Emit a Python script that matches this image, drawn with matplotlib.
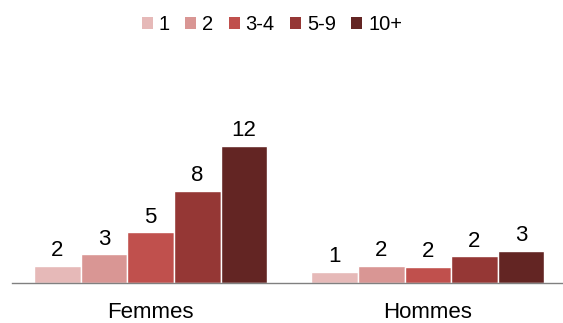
import matplotlib
matplotlib.use("Agg")
import matplotlib.pyplot as plt
import numpy as np
from matplotlib.patches import Patch

plt.rcParams['font.family'] = ['Liberation Sans', 'DejaVu Sans']

categories = ["Femmes", "Hommes"]
series_names = ["1", "2", "3-4", "5-9", "10+"]
values = {
    "1":   [1.55, 1.00],
    "2":   [2.60, 1.52],
    "3-4": [4.60, 1.50],
    "5-9": [8.35, 2.42],
    "10+": [12.45, 2.95],
}
colors = ["#E6B9B8", "#D99694", "#C0504D", "#953735", "#632523"]

fig = plt.figure(figsize=(5.63, 3.23), dpi=100)
ax = fig.add_axes([12/563, 40/323, 551/563, 223/323])

x = np.arange(len(categories))
n = len(series_names)
slot = 0.84 / n
for i, (name, c) in enumerate(zip(series_names, colors)):
    vals = values[name]
    pos = x - 0.42 + slot * (i + 0.5)
    bars = ax.bar(pos, vals, width=slot, color=c, edgecolor="white", linewidth=1)
    for b, v in zip(bars, vals):
        ax.annotate(f"{int(np.floor(v + 0.5))}", (b.get_x() + b.get_width()/2, v),
                    xytext=(0, 3.5), textcoords="offset points",
                    ha="center", va="bottom", fontsize=16, color="black")

ax.set_xlim(-0.5, 1.487)
ax.set_ylim(0, 20.3)
ax.set_xticks(x)
ax.set_xticklabels(categories, fontsize=16)
ax.tick_params(axis="x", length=0, pad=14)
ax.set_yticks([])
for s in ["top", "left", "right"]:
    ax.spines[s].set_visible(False)
ax.spines["bottom"].set_color("#808080")
ax.spines["bottom"].set_linewidth(1)

handles = [Patch(facecolor=c, edgecolor="none") for c in colors]
fig.legend(handles, series_names, loc="center", bbox_to_anchor=(272/563, 1 - 25/323),
           ncol=5, frameon=False, fontsize=14.5, handlelength=0.55, handleheight=0.55,
           handletextpad=0.3, columnspacing=0.75, borderaxespad=0, borderpad=0)

fig.savefig("out.png", dpi=100)
